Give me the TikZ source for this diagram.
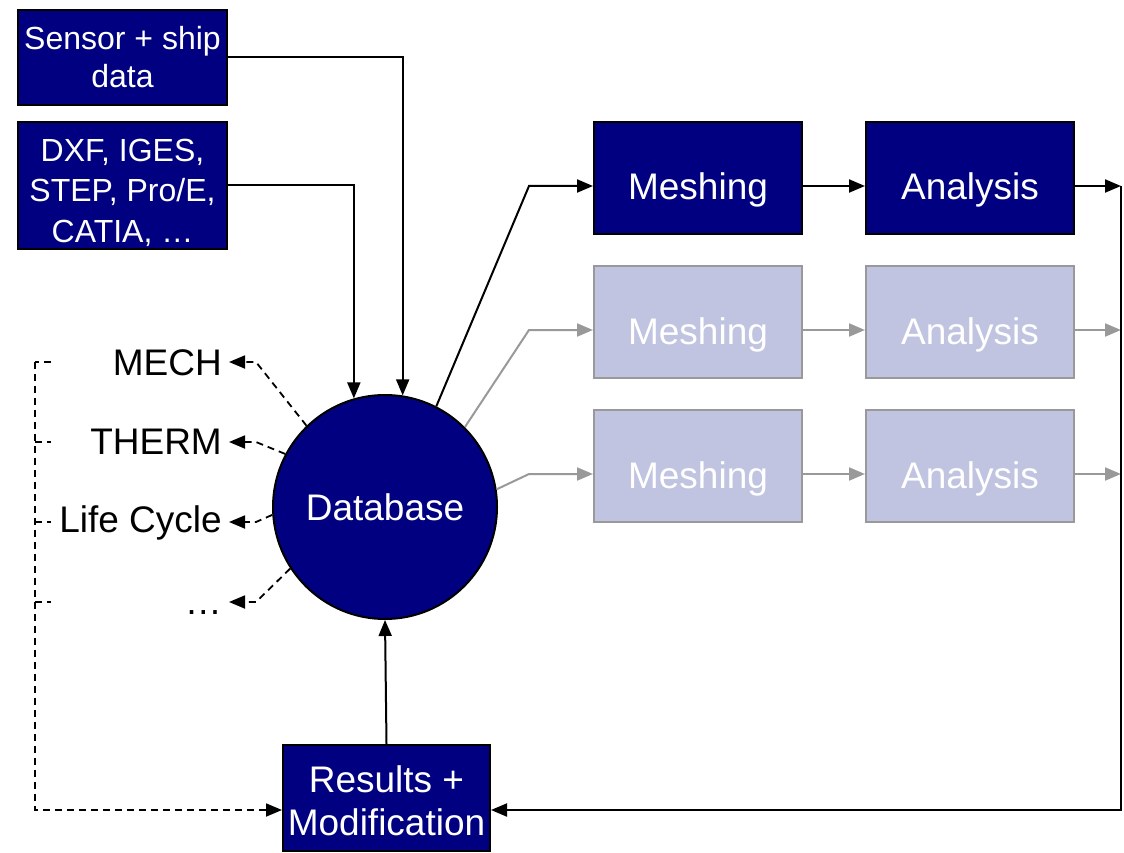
\documentclass[tikz,border=0pt]{standalone}
\usepackage{fontspec}
\setmainfont{Liberation Sans}
\usetikzlibrary{arrows.meta,calc}
\definecolor{navy}{RGB}{0,0,128}
\definecolor{lightbox}{RGB}{192,196,224}
\definecolor{grayline}{RGB}{153,153,153}
\begin{document}
\begin{tikzpicture}[x=1pt,y=-1pt,
  dbox/.style={draw=black,line width=2pt,fill=navy,text=white,align=center,inner sep=0pt},
  lbox/.style={draw=grayline,line width=2pt,fill=lightbox,text=white,align=center,inner sep=0pt},
  big/.style={font=\fontsize{37}{43}\selectfont},
  small/.style={font=\fontsize{32}{38}\selectfont},
  low/.style={text height=48pt,text depth=4pt},
  wtext/.style={text=white,align=center,inner sep=0pt},
  conn/.style={line width=2pt,black},
  gconn/.style={line width=2pt,grayline},
  tip/.style={-{Triangle[length=16pt,width=13pt]}},
  dconn/.style={line width=1.8pt,black,dash pattern=on 7pt off 5pt},
  lbl/.style={font=\fontsize{37}{43}\selectfont,anchor=east,inner sep=0pt}
]
\useasboundingbox (0,0) rectangle (1124,853);
% source boxes
\node[dbox,small,minimum width=209,minimum height=95] (sensor) at (122.5,57.5) {Sensor + ship\\data};
\node[dbox,minimum width=209,minimum height=127] (dxf) at (122.5,185.5) {};
\node[wtext,font=\fontsize{32}{40.5}\selectfont] (dxft) at ($(dxf.center)+(0,7)$) {DXF, IGES,\\STEP, Pro/E,\\CATIA, \dots};
% database
\node[circle,draw=black,line width=2pt,fill=navy,text=white,big,minimum size=224,inner sep=0pt] (db) at (385,507) {Database};
% meshing / analysis
\node[dbox,big,low,minimum width=208,minimum height=112] (m1) at (698,178) {Meshing};
\node[dbox,big,low,minimum width=208,minimum height=112] (a1) at (970,178) {Analysis};
\node[lbox,big,low,minimum width=208,minimum height=112] (m2) at (698,322) {Meshing};
\node[lbox,big,low,minimum width=208,minimum height=112] (a2) at (970,322) {Analysis};
\node[lbox,big,low,minimum width=208,minimum height=112] (m3) at (698,466) {Meshing};
\node[lbox,big,low,minimum width=208,minimum height=112] (a3) at (970,466) {Analysis};
% results
\node[dbox,minimum width=207,minimum height=106] (res) at (386.5,798) {};
\node[wtext,big] (rest) at ($(res.center)+(0,3)$) {Results +\\Modification};
% labels
\node[lbl] (mech) at (222,363) {MECH};
\node[lbl] (therm) at (222,442) {THERM};
\node[lbl] (life) at (222,523) {Life Cycle};
\node[lbl,anchor=base east] (dots) at (222,614) {\dots};
% helper coordinates
\coordinate (rc1) at (1121,186);
\coordinate (rc2) at (1121,330);
\coordinate (rc3) at (1121,474);
\coordinate (rb) at (1121,810);
\coordinate (lt) at (35,362);
\coordinate (lb) at (35,810);
\coordinate (tm) at (229,362);
\coordinate (tt) at (229,442);
\coordinate (tl) at (229,522);
\coordinate (td) at (229,602);
% inputs
\draw[conn,tip] (sensor.east) -| (db.81);
\draw[conn,tip] (dxf.east) -| (db.106.6);
% database -> meshing
\draw[conn,tip] (db.63) -- ($(m1.west)+(-64,8)$) -- ($(m1.west)+(0,8)$);
\draw[gconn,tip] (db.45.7) -- ($(m2.west)+(-64,8)$) -- ($(m2.west)+(0,8)$);
\draw[gconn,tip] (db.9.6) -- ($(m3.west)+(-64,8)$) -- ($(m3.west)+(0,8)$);
% meshing -> analysis
\draw[conn,tip] ($(m1.east)+(0,8)$) -- ($(a1.west)+(0,8)$);
\draw[gconn,tip] ($(m2.east)+(0,8)$) -- ($(a2.west)+(0,8)$);
\draw[gconn,tip] ($(m3.east)+(0,8)$) -- ($(a3.west)+(0,8)$);
% analysis -> out
\draw[gconn,tip] ($(a2.east)+(0,8)$) -- (rc2);
\draw[gconn,tip] ($(a3.east)+(0,8)$) -- (rc3);
\draw[conn,tip] ($(a1.east)+(0,8)$) -- (rc1);
\draw[conn,tip] (rc1) -- (rb) -- (res.east |- rb);
% results -> database
\draw[conn,tip] (res.north) -- (db.south);
% dashed outputs
\draw[dconn,tip] (db.134) -- ($(tm)+(27,0)$) -- (tm);
\draw[dconn,tip] (db.152) -- ($(tt)+(27,0)$) -- (tt);
\draw[dconn,tip] (db.184) -- ($(tl)+(27,0)$) -- (tl);
\draw[dconn,tip] (db.213) -- ($(td)+(27,0)$) -- (td);
% left dashed feedback
\draw[dconn] ($(lt)+(16,0)$) -- (lt);
\draw[dconn] (35,442) -- (51,442);
\draw[dconn] (35,522) -- (51,522);
\draw[dconn] (35,602) -- (51,602);
\draw[dconn,tip] (lt) -- (lb) -- (res.west |- lb);
\end{tikzpicture}
\end{document}
